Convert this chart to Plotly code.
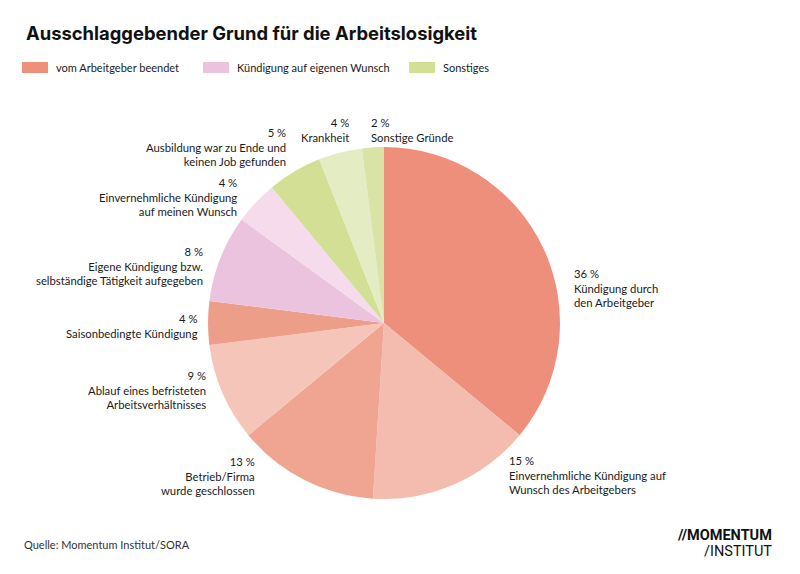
import plotly.graph_objects as go

# ---- data ----
labels = [
    "Kündigung durch den Arbeitgeber",
    "Einvernehmliche Kündigung auf Wunsch des Arbeitgebers",
    "Betrieb/Firma wurde geschlossen",
    "Ablauf eines befristeten Arbeitsverhältnisses",
    "Saisonbedingte Kündigung",
    "Eigene Kündigung bzw. selbständige Tätigkeit aufgegeben",
    "Einvernehmliche Kündigung auf meinen Wunsch",
    "Ausbildung war zu Ende und keinen Job gefunden",
    "Krankheit",
    "Sonstige Gründe",
]
label_lines = [
    "Kündigung durch<br>den Arbeitgeber",
    "Einvernehmliche Kündigung auf<br>Wunsch des Arbeitgebers",
    "Betrieb/Firma<br>wurde geschlossen",
    "Ablauf eines befristeten<br>Arbeitsverhältnisses",
    "Saisonbedingte Kündigung",
    "Eigene Kündigung bzw.<br>selbständige Tätigkeit aufgegeben",
    "Einvernehmliche Kündigung<br>auf meinen Wunsch",
    "Ausbildung war zu Ende und<br>keinen Job gefunden",
    "Krankheit",
    "Sonstige Gründe",
]
values = [36, 15, 13, 9, 4, 8, 4, 5, 4, 2]
groups = ["vom Arbeitgeber beendet", "Kündigung auf eigenen Wunsch", "Sonstiges"]

# ---- styles ----
slice_colors = ["#EE8F7B", "#F4BCAF", "#F0A593", "#F5C5B9", "#ED9E89",
                "#ECC3DF", "#F5DBEB", "#D3DF94", "#E4ECC4", "#D8E3A5"]
group_colors = ["#EE907B", "#EBC3DE", "#D3DF94"]
W, H = 800, 574
OFF = 8  # page body margin
FONT = "Lato"
TXT = "#1a1a1a"

# label anchor positions (pixels) and alignment
label_pos = [
    (572, 265, "left"), (507, 452, "left"), (257, 453, "right"), (208, 367, "right"),
    (200, 310, "right"), (205, 243, "right"), (239, 174, "right"), (288, 124, "right"),
    (351, 114, "right"), (369, 114, "left"),
]


def px(x, y):
    return (x - OFF) / W, 1 - (y - OFF) / H


fig = go.Figure()
cx, cy, r = 384, 323, 176
x0, _ = px(cx - r, 0)
x1, _ = px(cx + r, 0)
_, y1 = px(0, cy - r)
_, y0 = px(0, cy + r)
fig.add_trace(go.Pie(
    labels=labels, values=values, sort=False, direction="clockwise", rotation=0,
    marker=dict(colors=slice_colors, line=dict(width=0)),
    textinfo="none", hoverinfo="label+percent", showlegend=False,
    domain=dict(x=[x0, x1], y=[y0, y1]),
))

annotations = []
for v, txt, (x, y, al) in zip(values, label_lines, label_pos):
    ax, ay = px(x, y)
    annotations.append(dict(
        x=ax, y=ay, xref="paper", yref="paper", xanchor=al, yanchor="top",
        align=al, showarrow=False, text=f"{v} %<br>{txt}",
        font=dict(family=FONT, size=11.3, color=TXT),
    ))

# title
tx, ty = px(24, 33)
annotations.append(dict(x=tx, y=ty, xref="paper", yref="paper", xanchor="left", yanchor="middle",
                        showarrow=False, text="<b>Ausschlaggebender Grund für die Arbeitslosigkeit</b>",
                        font=dict(family="Inter", size=18.4, color="#111111")))

# custom legend
shapes = []
leg_x = [22, 203, 409]
for g, c, lx in zip(groups, group_colors, leg_x):
    a0, b1 = px(lx, 62)
    a1, b0 = px(lx + 26, 73)
    shapes.append(dict(type="rect", xref="paper", yref="paper", x0=a0, x1=a1, y0=b0, y1=b1,
                       fillcolor=c, line=dict(width=0)))
    lxp, lyp = px(lx + 32, 67.5)
    annotations.append(dict(x=lxp, y=lyp, xref="paper", yref="paper", xanchor="left", yanchor="middle",
                            showarrow=False, text=g, font=dict(family=FONT, size=11, color=TXT)))

# source
sx, sy = px(22, 544)
annotations.append(dict(x=sx, y=sy, xref="paper", yref="paper", xanchor="left", yanchor="middle",
                        showarrow=False, text="Quelle: Momentum Institut/SORA",
                        font=dict(family=FONT, size=11, color="#333333")))
# logo
lx1, ly1 = px(774, 535)
annotations.append(dict(x=lx1, y=ly1, xref="paper", yref="paper", xanchor="right", yanchor="middle",
                        showarrow=False, text="<b>//MOMENTUM</b>",
                        font=dict(family="Roboto", size=14.5, color="#111111")))
lx2, ly2 = px(774, 551)
annotations.append(dict(x=lx2, y=ly2, xref="paper", yref="paper", xanchor="right", yanchor="middle",
                        showarrow=False, text="/INSTITUT",
                        font=dict(family="Roboto", size=14.5, color="#111111")))

fig.update_layout(
    width=W, height=H, margin=dict(l=0, r=0, t=0, b=0),
    paper_bgcolor="white", plot_bgcolor="white",
    annotations=annotations, shapes=shapes,
)
fig.write_html("out.html")
